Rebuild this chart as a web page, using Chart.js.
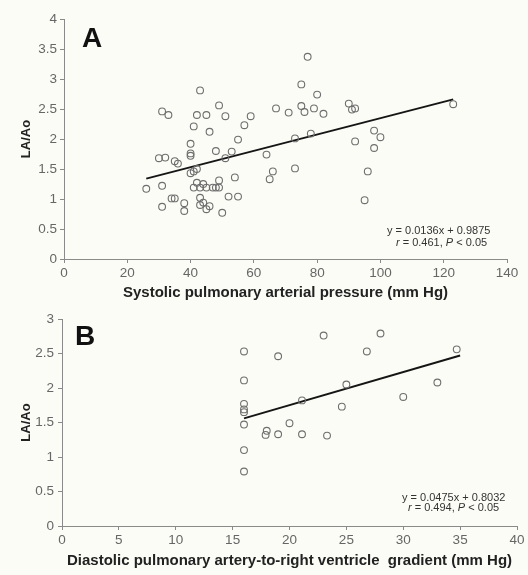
<!DOCTYPE html>
<html>
<head>
<meta charset="utf-8">
<script src="https://cdn.jsdelivr.net/npm/chart.js@4.4.1/dist/chart.umd.min.js"></script>
<style>
  html, body { margin: 0; padding: 0; background: #fcfcf7; }
  #chartA { position: absolute; left: 0; top: 0; }
  #chartB { position: absolute; left: 0; top: 305px; }
</style>
</head>
<body>
<canvas id="chartA" width="528" height="305"></canvas>
<canvas id="chartB" width="528" height="270"></canvas>
<script>
// Panel A: systolic pulmonary arterial pressure vs LA/Ao
const systolicPAP = [26, 31, 33, 30, 32, 31, 31, 35, 36, 34, 35, 38, 38, 43, 41, 42, 45, 46, 49, 51,
  40, 40, 40, 40, 41, 42, 48, 51, 53, 55, 57, 59, 42, 44, 41, 43, 45, 47, 48, 49,
  49, 43, 44, 43, 45, 46, 50, 52, 55, 54, 64, 66, 65, 67, 71, 73, 73, 75, 75, 76,
  77, 80, 79, 82, 78, 90, 91, 92, 92, 98, 100, 98, 96, 95, 123];
const laAoA = [1.17, 2.46, 2.40, 1.68, 1.69, 1.22, 0.87, 1.63, 1.59, 1.01, 1.01, 0.93, 0.80, 2.81, 2.21, 2.40, 2.40, 2.12, 2.56, 2.38,
  1.92, 1.76, 1.72, 1.43, 1.46, 1.50, 1.80, 1.68, 1.79, 1.99, 2.23, 2.38, 1.27, 1.25, 1.19, 1.19, 1.19, 1.19, 1.19, 1.19,
  1.31, 1.02, 0.94, 0.90, 0.83, 0.88, 0.77, 1.04, 1.04, 1.36, 1.74, 1.46, 1.33, 2.51, 2.44, 2.01, 1.51, 2.91, 2.55, 2.45,
  3.37, 2.74, 2.51, 2.42, 2.09, 2.59, 2.49, 2.51, 1.96, 2.14, 2.03, 1.85, 1.46, 0.98, 2.58];
const trendAx = [26, 123];
const trendAy = [1.34, 2.66];
const xTicksA = [0, 20, 40, 60, 80, 100, 120, 140];
const yTicksA = [0, 0.5, 1, 1.5, 2, 2.5, 3, 3.5, 4];

// Panel B: diastolic PA-to-RV gradient vs LA/Ao
const diastolicGrad = [16, 16, 16, 16, 16, 16, 16, 16, 19, 23, 28, 26.8, 34.7, 25, 33, 30, 21.1, 24.6, 20, 18, 17.9, 19, 21.1, 23.3];
const laAoB = [2.53, 2.11, 1.77, 1.69, 1.65, 1.47, 1.10, 0.79, 2.46, 2.76, 2.79, 2.53, 2.56, 2.05, 2.08, 1.87, 1.82, 1.73, 1.49, 1.38, 1.32, 1.33, 1.33, 1.31];
const trendBx = [16, 35];
const trendBy = [1.56, 2.47];
const xTicksB = [0, 5, 10, 15, 20, 25, 30, 35, 40];
const yTicksB = [0, 0.5, 1, 1.5, 2, 2.5, 3];

const FONT = '"Liberation Sans", Arial, sans-serif';

const panelText = {
  id: 'panelText',
  afterDraw(chart, args, opts) {
    const ctx = chart.ctx;
    ctx.save();
    ctx.fillStyle = '#111';
    ctx.font = 'bold 28px ' + FONT;
    ctx.textBaseline = 'alphabetic';
    ctx.textAlign = 'left';
    ctx.fillText(opts.letter, opts.letterX, opts.letterY);

    ctx.fillStyle = '#333';
    ctx.textBaseline = 'middle';
    ctx.font = '11px ' + FONT;
    ctx.fillText(opts.eq, opts.eqX, opts.eqY);
    let x = opts.rX;
    opts.rParts.forEach(function(p) {
      ctx.font = (p[1] ? 'italic ' : '') + '11px ' + FONT;
      ctx.fillText(p[0], x, opts.rY);
      x += ctx.measureText(p[0]).width;
    });
    ctx.restore();
  }
};

function makeOptions(cfg) {
  return {
    responsive: false,
    animation: false,
    layout: { padding: cfg.padding },
    plugins: {
      legend: { display: false },
      tooltip: { enabled: false },
      panelText: cfg.text
    },
    scales: {
      x: {
        type: 'linear',
        min: cfg.xTicks[0],
        max: cfg.xTicks[cfg.xTicks.length - 1],
        afterBuildTicks: function(scale) { scale.ticks = cfg.xTicks.map(v => ({ value: v })); },
        afterFit: function(scale) { scale.height = cfg.xHeight; },
        border: { color: '#8a8a8a', width: 1 },
        grid: { drawOnChartArea: false, drawTicks: true, tickLength: 4, color: '#8a8a8a' },
        ticks: { color: '#666', font: { size: 13.5, family: FONT }, padding: 2, maxRotation: 0, callback: v => String(v) },
        title: { display: true, text: cfg.xTitle, color: '#222', font: { size: 15, weight: 'bold', family: FONT }, padding: { top: 0, bottom: cfg.xTitlePad } }
      },
      y: {
        type: 'linear',
        min: cfg.yTicks[0],
        max: cfg.yTicks[cfg.yTicks.length - 1],
        afterBuildTicks: function(scale) { scale.ticks = cfg.yTicks.map(v => ({ value: v })); },
        afterFit: function(scale) { scale.width = cfg.yWidth; },
        border: { color: '#8a8a8a', width: 1 },
        grid: { drawOnChartArea: false, drawTicks: true, tickLength: 4, color: '#8a8a8a' },
        ticks: { color: '#666', font: { size: 13.5, family: FONT }, padding: cfg.yTickPad, callback: v => String(v) },
        title: { display: true, text: 'LA/Ao', color: '#222', font: { size: 13, weight: 'bold', family: FONT }, padding: { top: 19, bottom: 0 } }
      }
    }
  };
}

function makeData(xs, ys, tx, ty) {
  return {
    datasets: [{
      type: 'scatter',
      data: xs.map((x, i) => ({ x: x, y: ys[i] })),
      pointRadius: 3.4,
      pointBorderWidth: 1.1,
      borderColor: '#6e6e6e',
      backgroundColor: 'rgba(0,0,0,0)',
      pointBackgroundColor: 'rgba(0,0,0,0)'
    }, {
      type: 'line',
      data: tx.map((x, i) => ({ x: x, y: ty[i] })),
      borderColor: '#151515',
      borderWidth: 2,
      pointRadius: 0,
      fill: false
    }]
  };
}

new Chart(document.getElementById('chartA').getContext('2d'), {
  type: 'scatter',
  data: makeData(systolicPAP, laAoA, trendAx, trendAy),
  options: makeOptions({
    padding: { left: 0, top: 19, right: 21, bottom: 0 },
    xTicks: xTicksA, yTicks: yTicksA,
    xHeight: 46, yWidth: 64, yTickPad: 3, xTitlePad: 3,
    xTitle: 'Systolic pulmonary arterial pressure (mm Hg)',
    text: {
      letter: 'A', letterX: 82, letterY: 46.5,
      eq: 'y = 0.0136x + 0.9875', eqX: 387, eqY: 231,
      rParts: [['r', true], [' = 0.461, ', false], ['P', true], [' < 0.05', false]], rX: 396, rY: 242.5
    }
  }),
  plugins: [panelText]
});

new Chart(document.getElementById('chartB').getContext('2d'), {
  type: 'scatter',
  data: makeData(diastolicGrad, laAoB, trendBx, trendBy),
  options: makeOptions({
    padding: { left: 0, top: 14, right: 11, bottom: 0 },
    xTicks: xTicksB, yTicks: yTicksB,
    xHeight: 49, yWidth: 62, yTickPad: 4, xTitlePad: 5,
    xTitle: 'Diastolic pulmonary artery-to-right ventricle  gradient (mm Hg)',
    text: {
      letter: 'B', letterX: 75, letterY: 40,
      eq: 'y = 0.0475x + 0.8032', eqX: 402, eqY: 193.3,
      rParts: [['r', true], [' = 0.494, ', false], ['P', true], [' < 0.05', false]], rX: 408, rY: 202.7
    }
  }),
  plugins: [panelText]
});
</script>
</body>
</html>
